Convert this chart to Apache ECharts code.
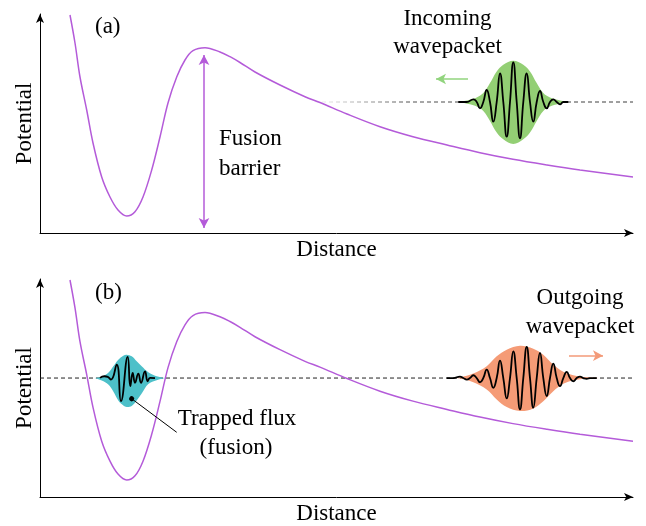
<!DOCTYPE html>
<html>
<head>
<meta charset="utf-8">
<script src="https://cdn.jsdelivr.net/npm/echarts@6/dist/echarts.min.js"></script>
<style>
html,body{margin:0;padding:0;background:#fff;}
#c{width:646px;height:526px;}
</style>
</head>
<body>
<div id="c"></div>
<script>
// ---- Potential curve (same shape in both panels) ----
const potX = [30,35,40,46.7,53,61.7,70,78,86.7,95,103,111.7,120,128,136.7,145,153,165,180,190,200,215,240,265,280,307,340,373,407,440,473,507,540,593];
const potY = [218,190,156,123,90,56,36,23,17,21.3,36,63,96,130,156,173,182.3,185.3,181,176.3,170.5,161,148,136.3,130.5,119,106.3,96.3,88,80.3,73.7,68,63,56];

// ---- Energy levels ----
const energyA = 131;
const energyB = 119.5;

// ---- Panel (a): incoming wavepacket ----
const waveAX = [418.3,426.7,433.3,436.7,440,443.3,446.7,450,453.3,456.7,460,463.3,466.7,470,473.3,476.7,480,483.3,486.7,490,493.3,496.7,500,503.3,506.7,510,513.3,516.7,520,523.3,528.3];
const waveAY = [131,131,133.7,131,124.7,131,143,131,111.3,131,159.7,131,96.3,131,170.7,131,94.7,131,159.7,131,111.3,131,142,131,124.7,131,133.7,131,128.7,131,131];
const envAX = [418.3,430,436.7,443.3,450,456.7,463.3,473.3,483.3,490,496.7,503.3,510,520,528.3];
const envATop = [131,133.3,135.6,140,150,161.6,168.3,172.3,168.3,161.6,150,140,135.6,132.6,131];
const envABot = [131,128.7,126.4,122,112,100.4,93.7,89,93.7,100.4,112,122,126.4,129.4,131];

// ---- Panel (b): outgoing wavepacket ----
const waveBX = [406.7,413.3,420,423.3,426.7,430,433.3,436.7,440,443.3,446.7,450,453.3,456.7,460,463.3,466.7,470,473.3,476.7,480,483.3,486.7,490,493.3,496.7,500,503.3,506.7,510,513.3,516.7,520,523.3,526.7,530,533.3,536.7,540,543.3,546.7,550,556.7];
const waveBY = [119.5,119.5,121,119.5,118,119.5,122.3,119.5,115.3,119.5,128,119.5,109.7,119.5,137,119.5,99,119.5,146.3,119.5,88,119.5,150.7,119.5,89.7,119.5,144.7,119.5,101.3,119.5,134,119.5,111.3,119.5,125.7,119.5,116.3,119.5,121,119.5,118.7,119.5,119.5];
const envBX = [408.3,420,433.3,446.7,456.7,466.7,480,493.3,503.3,513.3,523.3,533.3,546.7,563.3];
const envBTop = [119.5,120.3,124,131.3,141.3,148,152,149,143,133,125.7,122.3,120.3,119.5];
const envBBot = [119.5,119,115.3,108,98,90.3,86.3,89,96.3,106.3,113.7,117,119,119.5];

// ---- Panel (b): trapped flux ----
const waveCX = [60,64.3,67.7,71,76.7,81,87.7,90.3,92.7,95,98.3,101,105,107.7,110,115];
const waveCY = [119.7,121.3,120.7,118,133,96.3,140.7,111.3,124.7,114.7,124,114.7,126.3,116.3,119.7,119.5];
const envCX = [55,61.7,68.3,73.3,78.3,83.3,86.7,91.7,96.7,101.7,108.3,116.7,125];
const envCTop = [119.5,120.7,124.7,131.3,138,142,143,141.3,136.3,131.3,125.3,121.3,119.5];
const envCBot = [119.5,117,113,106,97,92,90.5,91.5,97,104,113.5,117.3,119.5];

// ---- Annotation anchor values (data units) ----
const barrierArrow = [[164,5],[164,178]];
const greenArrow = [[396,154],[428,154]];
const orangeArrow = [[529,142],[563,142]];
const pointerLine = [[91.7,98.7],[136.7,65]];

const PURPLE = '#b45bd9', GREEN = '#93cf74', GREEN_ARROW = '#92d47e', TEAL = '#4dc0c9', ORANGE = '#f59b76', ORANGE_ARROW = '#f39a78';
const FONT = "'Liberation Serif', 'Times New Roman', 'DejaVu Serif', serif";

const zip = (xs, ys) => xs.map((x, i) => [x, ys[i]]);

function envelopeSeries(gi, xs, top, bot, color) {
  return {
    type: 'custom', xAxisIndex: gi, yAxisIndex: gi, z: 1, silent: true,
    data: [[xs[0], top[0]]],
    renderItem: function (params, api) {
      const pts = [];
      for (let i = 0; i < xs.length; i++) pts.push(api.coord([xs[i], top[i]]));
      for (let i = xs.length - 1; i >= 0; i--) pts.push(api.coord([xs[i], bot[i]]));
      return { type: 'polygon', shape: { points: pts, smooth: 0.35 }, style: { fill: color } };
    }
  };
}

function arrowMark(pair, symbols, color, width, size) {
  return {
    silent: true, animation: false, symbol: symbols, symbolSize: size,
    label: { show: false }, emphasis: { disabled: true },
    lineStyle: { color: color, width: width, type: 'solid' },
    itemStyle: { color: color },
    data: [[{ coord: pair[0] }, { coord: pair[1] }]]
  };
}

function axesFor(gi) {
  return {
    x: {
      gridIndex: gi, type: 'value', min: 0, max: 593,
      axisLine: { show: true, onZero: false, symbol: ['none', 'arrow'], symbolSize: [6, 9], lineStyle: { color: '#000', width: 1 } },
      axisTick: { show: false }, axisLabel: { show: false }, splitLine: { show: false },
      name: 'Distance', nameLocation: 'middle', nameGap: 5,
      nameTextStyle: { fontFamily: FONT, fontSize: 23, color: '#000' }
    },
    y: {
      gridIndex: gi, type: 'value', min: 0, max: 219,
      axisLine: { show: true, onZero: false, symbol: ['none', 'arrow'], symbolSize: [6, 9], lineStyle: { color: '#000', width: 1 } },
      axisTick: { show: false }, axisLabel: { show: false }, splitLine: { show: false },
      name: 'Potential', nameLocation: 'middle', nameGap: 4, nameRotate: 90,
      nameTextStyle: { fontFamily: FONT, fontSize: 23, color: '#000' }
    }
  };
}
const a0 = axesFor(0), a1 = axesFor(1);

function txt(x, y, s, align) {
  return { type: 'text', x: x, y: y, silent: true, z: 100,
    style: { text: s, font: "23px " + FONT, fill: '#000', align: align || 'center', verticalAlign: 'middle' } };
}

const chart = echarts.init(document.getElementById('c'), null, { renderer: 'canvas' });
chart.setOption({
  animation: false,
  backgroundColor: '#fff',
  textStyle: { fontFamily: FONT },
  grid: [
    { left: 40, top: 14, width: 593, height: 219 },
    { left: 40, top: 279, width: 593, height: 219 }
  ],
  xAxis: [a0.x, a1.x],
  yAxis: [a0.y, a1.y],
  series: [
    { type: 'line', xAxisIndex: 0, yAxisIndex: 0, z: 0, silent: true, showSymbol: false,
      data: [[275, energyA], [593, energyA]],
      lineStyle: { width: 1, type: [4, 3],
        color: new echarts.graphic.LinearGradient(0, 0, 1, 0, [
          { offset: 0, color: 'rgba(80,80,80,0)' },
          { offset: 0.3, color: 'rgba(80,80,80,1)' },
          { offset: 1, color: 'rgba(60,60,60,1)' }]) } },
    { type: 'line', xAxisIndex: 1, yAxisIndex: 1, z: 0, silent: true, showSymbol: false,
      data: [[0, energyB], [593, energyB]],
      lineStyle: { width: 1, type: [4, 3], color: '#222' } },
    envelopeSeries(0, envAX, envATop, envABot, GREEN),
    envelopeSeries(1, envBX, envBTop, envBBot, ORANGE),
    envelopeSeries(1, envCX, envCTop, envCBot, TEAL),
    { type: 'line', xAxisIndex: 0, yAxisIndex: 0, z: 3, silent: true, showSymbol: false, smooth: 0.35,
      data: zip(potX, potY), lineStyle: { color: PURPLE, width: 1.5 },
      markLine: arrowMark(barrierArrow, ['arrow', 'arrow'], PURPLE, 1.5, [8, 10]) },
    { type: 'line', xAxisIndex: 1, yAxisIndex: 1, z: 3, silent: true, showSymbol: false, smooth: 0.35,
      data: zip(potX, potY), lineStyle: { color: PURPLE, width: 1.5 } },
    { type: 'line', xAxisIndex: 0, yAxisIndex: 0, z: 4, silent: true, showSymbol: false, smooth: 0.5,
      data: zip(waveAX, waveAY), lineStyle: { color: '#000', width: 1.8 },
      markLine: arrowMark(greenArrow, ['arrow', 'none'], GREEN_ARROW, 1.5, [8, 10]) },
    { type: 'line', xAxisIndex: 1, yAxisIndex: 1, z: 4, silent: true, showSymbol: false, smooth: 0.5,
      data: zip(waveBX, waveBY), lineStyle: { color: '#000', width: 1.8 },
      markLine: arrowMark(orangeArrow, ['none', 'arrow'], ORANGE_ARROW, 1.5, [8, 10]) },
    { type: 'line', xAxisIndex: 1, yAxisIndex: 1, z: 4, silent: true, showSymbol: false, smooth: 0.5,
      data: zip(waveCX, waveCY), lineStyle: { color: '#000', width: 1.8 },
      markLine: arrowMark(pointerLine, ['circle', 'none'], '#000', 1, [5, 5]) }
  ],
  graphic: [
    txt(95, 27, '(a)', 'left'),
    txt(95, 293, '(b)', 'left'),
    txt(219, 139, 'Fusion', 'left'),
    txt(219, 169, 'barrier', 'left'),
    txt(447.5, 19, 'Incoming'),
    txt(447.5, 47, 'wavepacket'),
    txt(237, 418.5, 'Trapped flux'),
    txt(236, 448, '(fusion)'),
    txt(580, 298, 'Outgoing'),
    txt(580, 327, 'wavepacket')
  ]
});
</script>
</body>
</html>
